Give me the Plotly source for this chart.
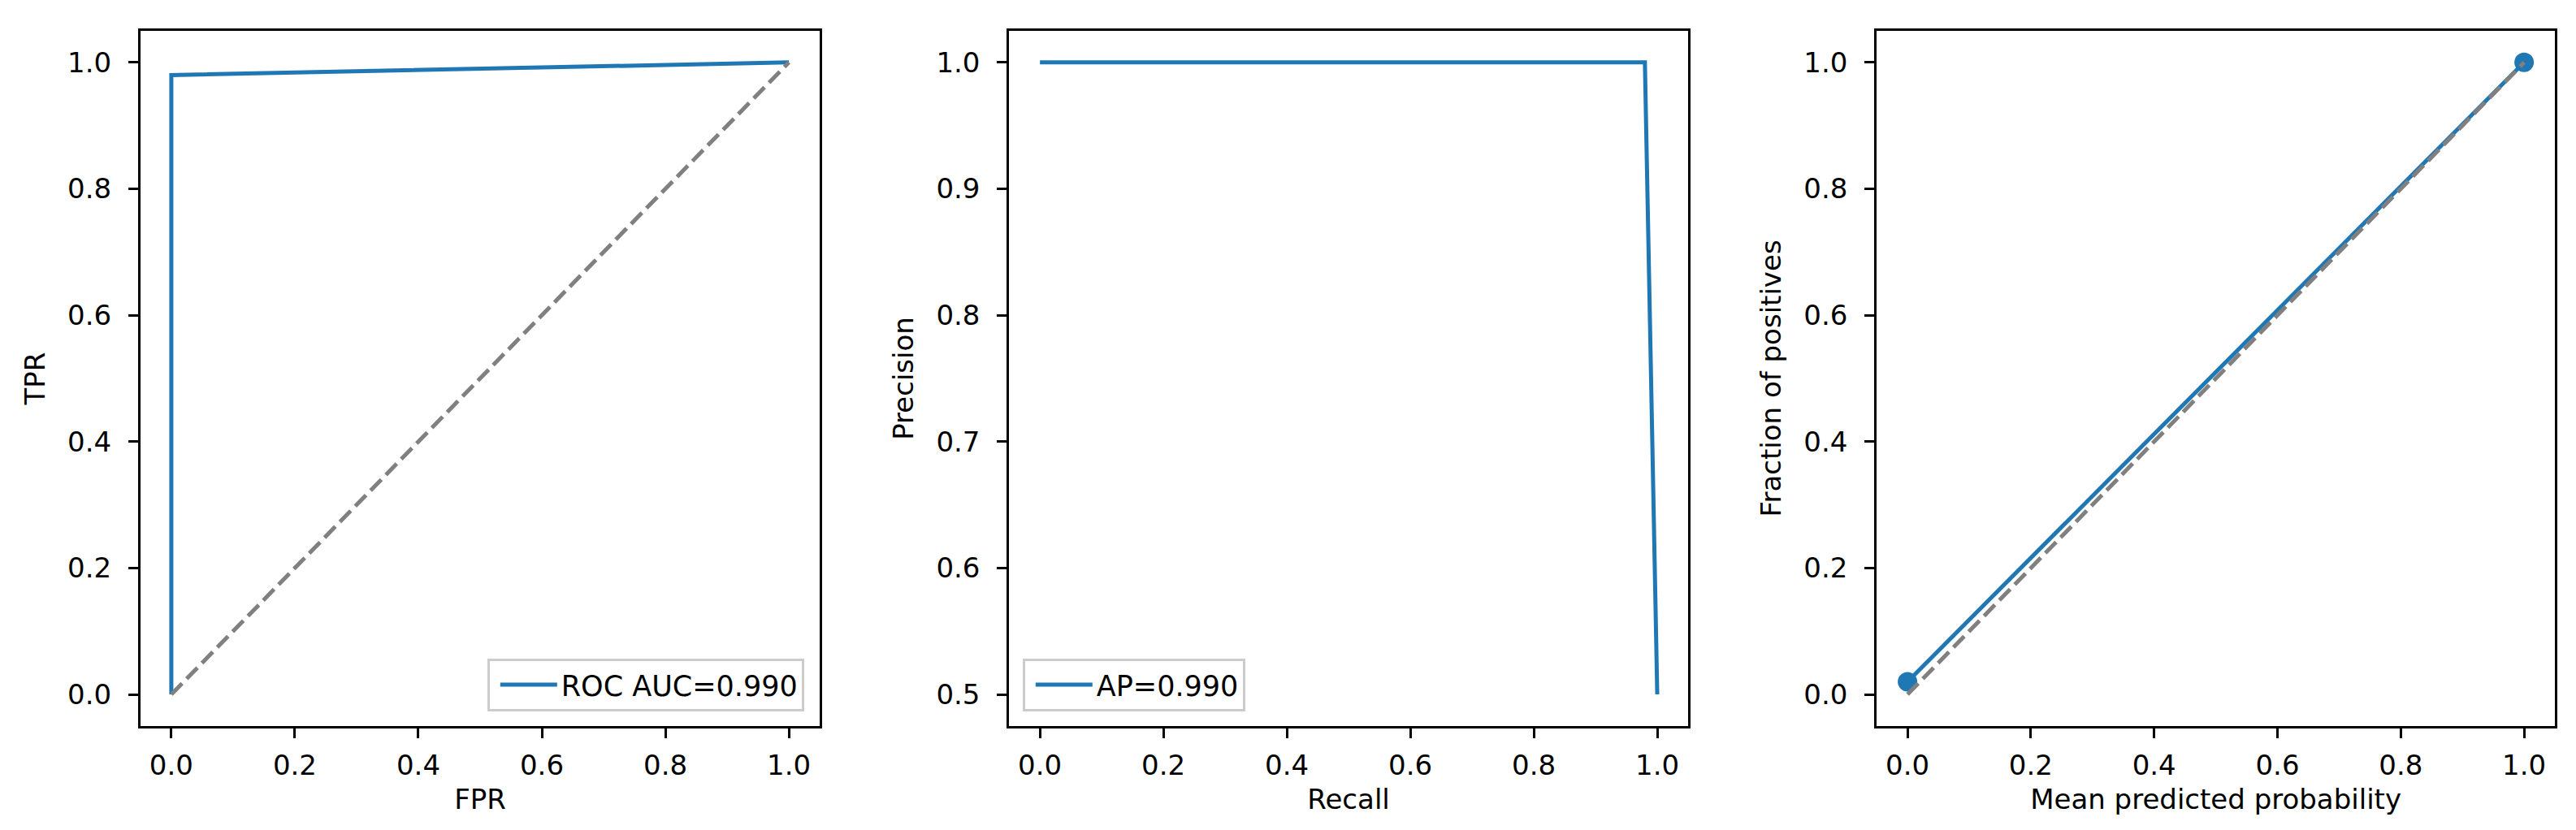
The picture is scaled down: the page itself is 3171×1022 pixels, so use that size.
import plotly.graph_objects as go

# ---- data ----
roc_fpr = [0.0, 0.0, 1.0]
roc_tpr = [0.0, 0.98, 1.0]
roc_label = "ROC AUC=0.990"

pr_recall = [0.0, 0.98, 1.0]
pr_precision = [1.0, 1.0, 0.5]
pr_label = "AP=0.990"

cal_pred = [0.0, 1.0]
cal_frac = [0.02, 1.0]

diag = [0.0, 1.0]

tick_vals_01 = [0.0, 0.2, 0.4, 0.6, 0.8, 1.0]
tick_text_01 = ["0.0", "0.2", "0.4", "0.6", "0.8", "1.0"]
tick_vals_pr = [0.5, 0.6, 0.7, 0.8, 0.9, 1.0]
tick_text_pr = ["0.5", "0.6", "0.7", "0.8", "0.9", "1.0"]

BLUE = "#1f77b4"
GRAY = "#808080"
FONT = "DejaVu Sans"
FS = 34
LW = 5
DASH = "19px,8px"

fig = go.Figure()

# Panel 1: ROC
fig.add_trace(go.Scatter(x=roc_fpr, y=roc_tpr, mode="lines", name=roc_label,
                         line=dict(color=BLUE, width=LW), xaxis="x", yaxis="y",
                         legend="legend", showlegend=True))
fig.add_trace(go.Scatter(x=diag, y=diag, mode="lines", showlegend=False,
                         line=dict(color=GRAY, width=LW, dash=DASH), xaxis="x", yaxis="y"))

# Panel 2: PR
fig.add_trace(go.Scatter(x=pr_recall, y=pr_precision, mode="lines", name=pr_label,
                         line=dict(color=BLUE, width=LW), xaxis="x2", yaxis="y2",
                         legend="legend2", showlegend=True))

# Panel 3: calibration
fig.add_trace(go.Scatter(x=cal_pred, y=cal_frac, mode="lines+markers", showlegend=False,
                         line=dict(color=BLUE, width=LW),
                         marker=dict(color=BLUE, size=24, line=dict(width=0)),
                         xaxis="x3", yaxis="y3"))
fig.add_trace(go.Scatter(x=diag, y=diag, mode="lines", showlegend=False,
                         line=dict(color=GRAY, width=LW, dash=DASH), xaxis="x3", yaxis="y3"))

ydom = [0.1331, 0.9707]
xdoms = [[0.0520, 0.3157], [0.3892, 0.6528], [0.7260, 0.9893]]


def xaxis(dom, title, anchor):
    return dict(domain=dom, anchor=anchor, range=[-0.05, 1.05],
                tickmode="array", tickvals=tick_vals_01, ticktext=tick_text_01,
                showgrid=False, zeroline=False, showline=True, mirror=True,
                linecolor="black", linewidth=2.8, ticks="outside", ticklen=12,
                tickwidth=2.8, tickcolor="black", ticklabelstandoff=4,
                tickfont=dict(family=FONT, size=FS, color="black"),
                title=dict(text=title, font=dict(family=FONT, size=FS, color="black"),
                           standoff=12),
                automargin=False)


def yaxis(title, anchor, rng, tv, tt):
    return dict(domain=ydom, anchor=anchor, range=rng,
                tickmode="array", tickvals=tv, ticktext=tt,
                showgrid=False, zeroline=False, showline=True, mirror=True,
                linecolor="black", linewidth=2.8, ticks="outside", ticklen=12,
                tickwidth=2.8, tickcolor="black", ticklabelstandoff=14,
                tickfont=dict(family=FONT, size=FS, color="black"),
                title=dict(text=title, font=dict(family=FONT, size=FS, color="black"),
                           standoff=18),
                automargin=False)


legend_common = dict(bgcolor="rgba(255,255,255,0.8)", bordercolor="#cccccc", borderwidth=2.8,
                     font=dict(family=FONT, size=FS + 1, color="black"),
                     yanchor="bottom", y=1 - 868 / 1022, itemwidth=70,
                     indentation=8)

fig.update_layout(
    width=3171, height=1022,
    margin=dict(l=0, r=0, t=0, b=0),
    paper_bgcolor="white", plot_bgcolor="white",
    font=dict(family=FONT, size=FS, color="black"),
    xaxis=xaxis(xdoms[0], "FPR", "y"),
    yaxis=yaxis("TPR", "x", [-0.05, 1.05], tick_vals_01, tick_text_01),
    xaxis2=xaxis(xdoms[1], "Recall", "y2"),
    yaxis2=yaxis("Precision", "x2", [0.475, 1.025], tick_vals_pr, tick_text_pr),
    xaxis3=xaxis(xdoms[2], "Mean predicted probability", "y3"),
    yaxis3=yaxis("Fraction of positives", "x3", [-0.05, 1.05], tick_vals_01, tick_text_01),
    legend=dict(**legend_common, x=982 / 3171, xanchor="right"),
    legend2=dict(**legend_common, x=1251 / 3171, xanchor="left"),
    showlegend=True,
)

fig.write_html("out.html")
